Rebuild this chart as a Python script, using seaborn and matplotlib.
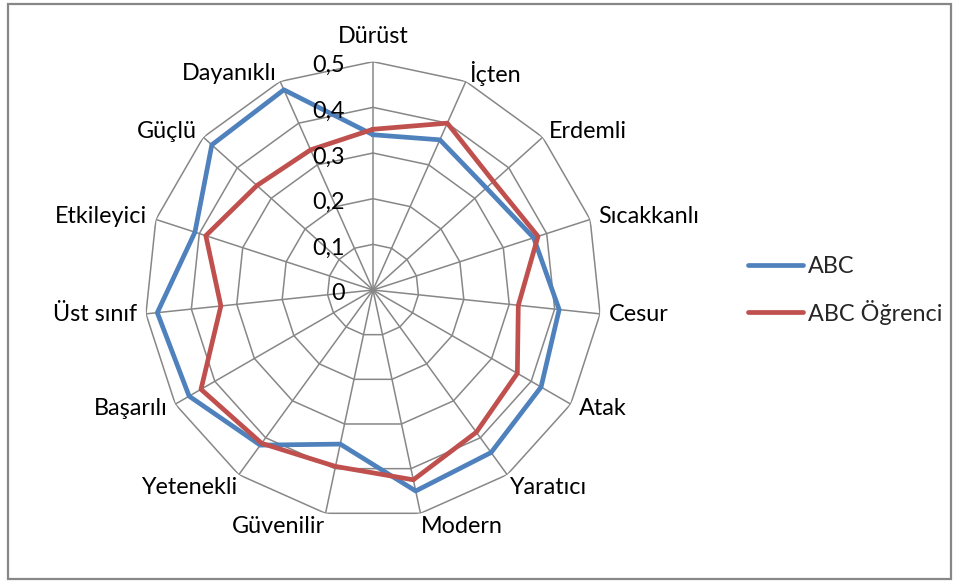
import numpy as np
import pandas as pd
import matplotlib
matplotlib.use("Agg")
import matplotlib.pyplot as plt
from matplotlib.lines import Line2D
from matplotlib.patches import Rectangle
import seaborn as sns

categories = ["Dürüst", "İçten", "Erdemli", "Sıcakkanlı", "Cesur", "Atak", "Yaratıcı",
              "Modern", "Güvenilir", "Yetenekli", "Başarılı", "Üst sınıf", "Etkileyici",
              "Güçlü", "Dayanıklı"]
abc = [0.34, 0.36, 0.334, 0.37, 0.41, 0.425, 0.44, 0.45, 0.345, 0.42, 0.465, 0.475,
       0.41, 0.475, 0.48]
abc_ogrenci = [0.352, 0.40, 0.355, 0.38, 0.32, 0.365, 0.385, 0.425, 0.395, 0.415,
               0.435, 0.335, 0.385, 0.342, 0.336]
series_names = ["ABC", "ABC Öğrenci"]
ring_values = [0, 0.1, 0.2, 0.3, 0.4, 0.5]
ring_labels = ["0", "0,1", "0,2", "0,3", "0,4", "0,5"]

colors = ["#4F81BD", "#C0504D"]
grid_color = "#878787"

sns.set_theme(style="white")
plt.rcParams["font.family"] = ["Lato", "DejaVu Sans"]
fs = 16.8

n = len(categories)
theta = np.linspace(0, 2 * np.pi, n, endpoint=False)
# close the polygon by repeating the first point at a full turn
theta_closed = np.append(theta, 2 * np.pi)

rows = []
for name, vals in zip(series_names, [abc, abc_ogrenci]):
    closed = list(vals) + [vals[0]]
    for t, v in zip(theta_closed, closed):
        rows.append({"seri": name, "theta": t, "deger": v})
df = pd.DataFrame(rows)

fig = plt.figure(figsize=(9.58, 5.81), dpi=100)
# outer chart frame
fig.patches.append(Rectangle((8 / 958, 2 / 581), 943 / 958, 575 / 581,
                             transform=fig.transFigure, fill=False,
                             edgecolor="#878787", linewidth=1.6))

cx, cy, R = 373, 290, 228.3
ax = fig.add_axes([(cx - R) / 958, (581 - cy - R) / 581, 2 * R / 958, 2 * R / 581],
                  projection="polar")
ax.set_theta_zero_location("N")
ax.set_theta_direction(-1)
ax.set_ylim(0, 0.5)
ax.grid(False)
ax.spines["polar"].set_visible(False)
ax.set_xticks([])
ax.set_yticks([])
ax.patch.set_alpha(0)

# polygonal rings and spokes
for r in ring_values[1:]:
    ax.plot(theta_closed, [r] * (n + 1), color=grid_color, lw=1.1, zorder=1)
for t in theta:
    ax.plot([t, t], [0, 0.5], color=grid_color, lw=1.1, zorder=1)

for k, name in enumerate(series_names):
    sub = df[df["seri"] == name]
    sns.lineplot(data=sub, x="theta", y="deger", sort=False, ax=ax,
                 color=colors[k], lw=3.4, legend=False, zorder=3 + k,
                 solid_joinstyle="round", solid_capstyle="round")
ax.set_xlabel("")
ax.set_ylabel("")

# ring value labels along the top spoke
for r, lab in zip(ring_values, ring_labels):
    ax.annotate(lab, xy=(0, r), xytext=(-28, -4), textcoords="offset pixels",
                ha="right", va="center", fontsize=fs, color="black", zorder=6)

# category labels around the outside
for t, lab in zip(theta, categories):
    s, c = np.sin(t), np.cos(t)
    ha = "left" if s > 0.1 else ("right" if s < -0.1 else "center")
    if abs(s) < 0.1:
        va, off = "bottom", 15
    elif c < -0.75:
        va, off = "top", 3
    else:
        va, off = "center", 9
    ax.annotate(lab, xy=(t, 0.5), xytext=(off * s if abs(s) >= 0.1 else 0, off * c),
                textcoords="offset pixels", ha=ha, va=va, fontsize=fs,
                color="black", annotation_clip=False)

handles = [Line2D([0], [0], color=colors[k], lw=3.4, solid_capstyle="round")
           for k in range(2)]
fig.legend(handles, series_names, loc="center left",
           bbox_to_anchor=(748 / 958, 1 - 290.5 / 581), frameon=False,
           fontsize=fs, handlelength=2.35, handletextpad=0.22, labelspacing=0.95,
           borderpad=0, borderaxespad=0)

fig.savefig("out.png", dpi=100, facecolor="white")
